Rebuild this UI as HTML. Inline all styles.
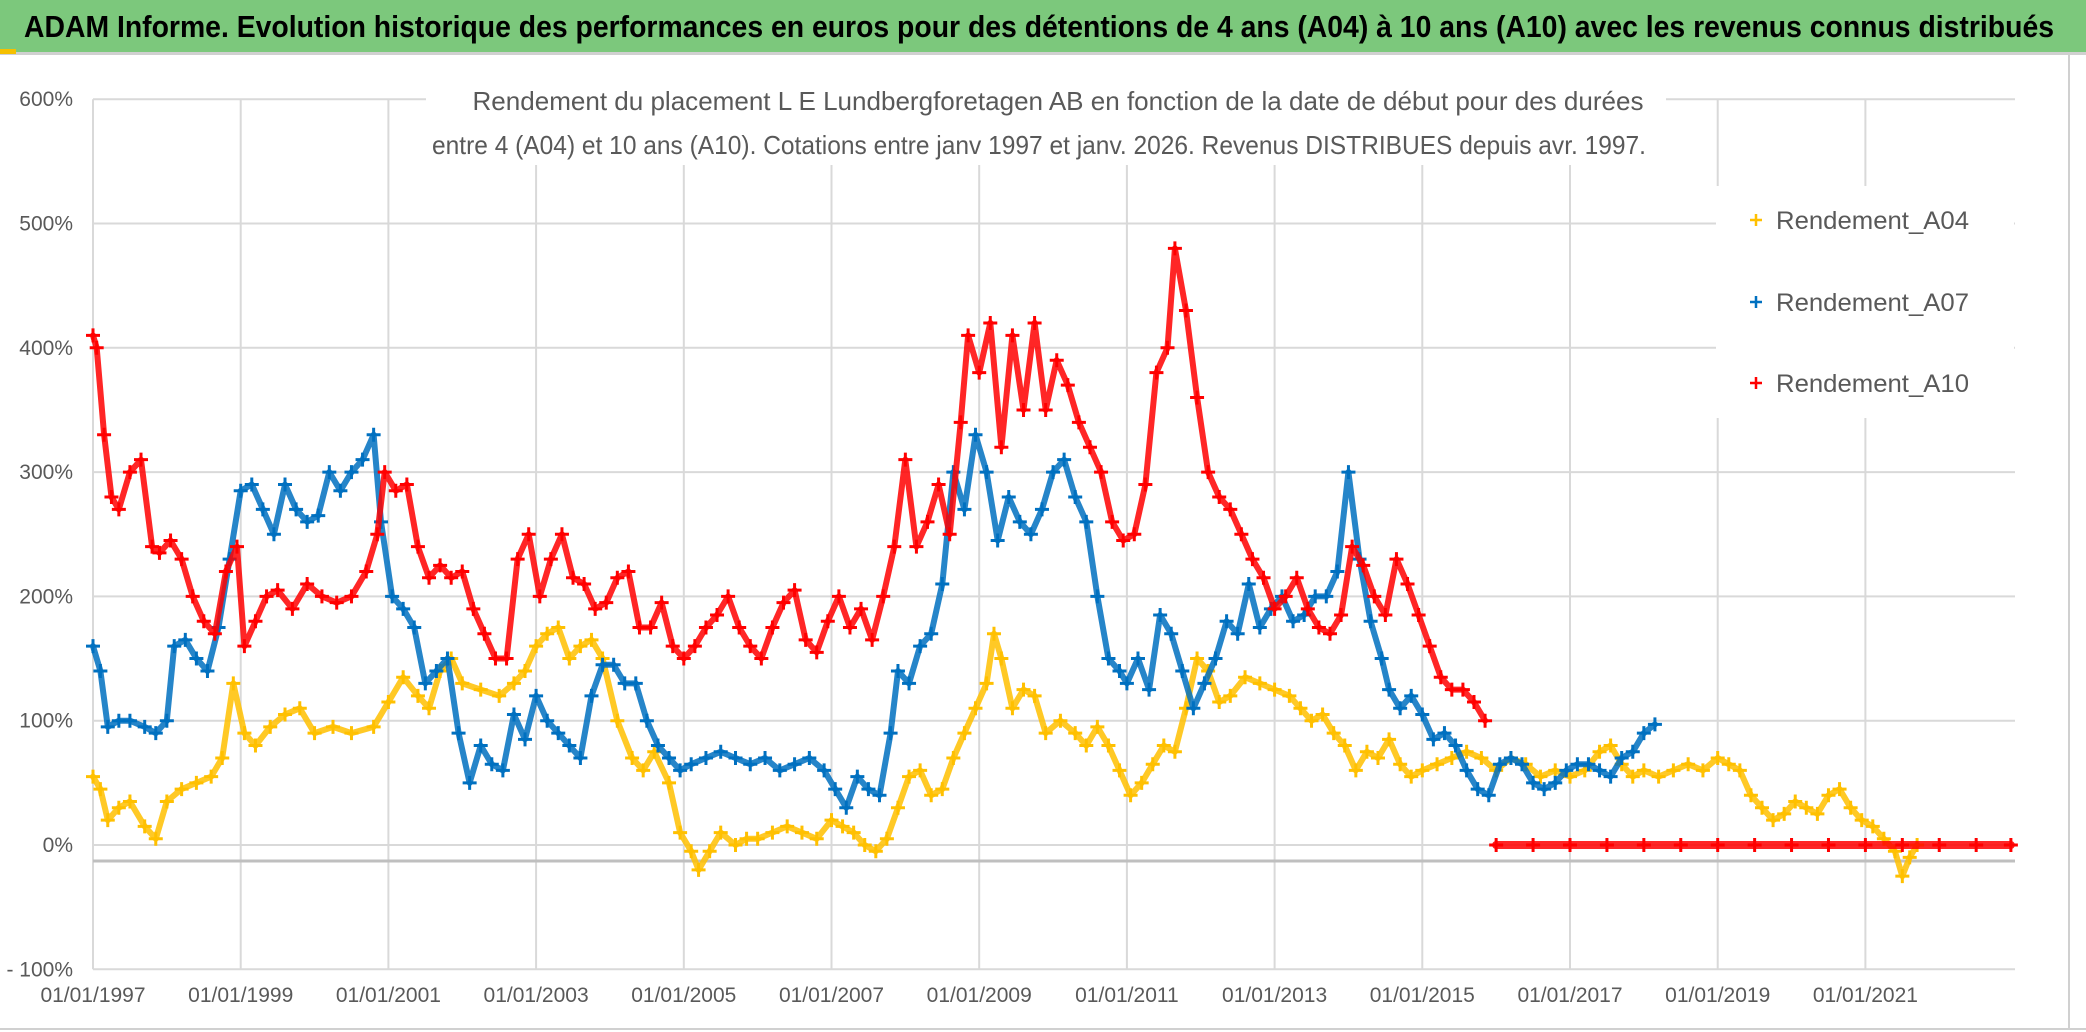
<!DOCTYPE html>
<html><head><meta charset="utf-8"><style>
html,body{margin:0;padding:0;background:#fff;}
svg{display:block;}
text{font-family:"Liberation Sans",sans-serif;}
</style></head><body>
<svg id="chart" width="2086" height="1032" xmlns="http://www.w3.org/2000/svg">
<rect x="0" y="0" width="2086" height="1032" fill="#fff"/>
<rect x="0" y="0" width="2086" height="52" fill="#7cc87c"/>
<rect x="0" y="52" width="2086" height="3" fill="#d0d0d0"/>
<rect x="0" y="49" width="16" height="5" fill="#f5c000"/>
<text x="24" y="37" font-size="31" font-weight="bold" fill="#000" textLength="2030" lengthAdjust="spacingAndGlyphs">ADAM Informe. Evolution historique des performances en euros pour des détentions de 4 ans (A04) à 10 ans (A10) avec les revenus connus distribués</text>
<line x1="2069" y1="55" x2="2069" y2="1030" stroke="#d0d0d0" stroke-width="2"/>
<line x1="0" y1="1029" x2="2086" y2="1029" stroke="#d0d0d0" stroke-width="2"/>
<g id="grid"></g>
<g id="series"></g>
<rect x="426" y="66" width="1240" height="99" fill="#fff"/>
<text x="1058" y="110" font-size="26" fill="#595959" text-anchor="middle" textLength="1171" lengthAdjust="spacingAndGlyphs">Rendement du placement L E Lundbergforetagen AB en fonction de la date de début pour des durées</text>
<text x="1039" y="154" font-size="26" fill="#595959" text-anchor="middle" textLength="1214" lengthAdjust="spacingAndGlyphs">entre 4 (A04) et 10 ans (A10). Cotations entre janv 1997 et janv. 2026. Revenus DISTRIBUES depuis avr. 1997.</text>
<g id="legend"></g>
<g id="axes"></g>
</svg>
<script>
const NS="http://www.w3.org/2000/svg";
const yTicks=[600,500,400,300,200,100,0,-100];
const yTickLabels=["600%","500%","400%","300%","200%","100%","0%","- 100%"];
const xTicks=[1997,1999,2001,2003,2005,2007,2009,2011,2013,2015,2017,2019,2021];
const xTickLabels=["01/01/1997","01/01/1999","01/01/2001","01/01/2003","01/01/2005","01/01/2007","01/01/2009","01/01/2011","01/01/2013","01/01/2015","01/01/2017","01/01/2019","01/01/2021"];
const seriesNames=["Rendement_A04","Rendement_A07","Rendement_A10"];

const yearsA04=[1997.0,1997.1,1997.2,1997.35,1997.5,1997.7,1997.85,1998.0,1998.2,1998.4,1998.6,1998.75,1998.9,1999.05,1999.2,1999.4,1999.6,1999.8,2000.0,2000.25,2000.5,2000.8,2001.0,2001.2,2001.4,2001.55,2001.7,2001.85,2002.0,2002.25,2002.5,2002.7,2002.85,2003.0,2003.15,2003.3,2003.45,2003.6,2003.75,2003.9,2004.1,2004.3,2004.45,2004.6,2004.8,2004.95,2005.1,2005.2,2005.35,2005.5,2005.7,2005.85,2006.0,2006.2,2006.4,2006.6,2006.8,2007.0,2007.15,2007.3,2007.45,2007.6,2007.75,2007.9,2008.05,2008.2,2008.35,2008.5,2008.65,2008.8,2008.95,2009.1,2009.2,2009.3,2009.45,2009.6,2009.75,2009.9,2010.1,2010.3,2010.45,2010.6,2010.75,2010.9,2011.05,2011.2,2011.35,2011.5,2011.65,2011.8,2011.95,2012.1,2012.25,2012.4,2012.6,2012.8,2013.0,2013.2,2013.35,2013.5,2013.65,2013.8,2013.95,2014.1,2014.25,2014.4,2014.55,2014.7,2014.85,2015.0,2015.2,2015.4,2015.6,2015.8,2016.0,2016.2,2016.4,2016.6,2016.8,2017.0,2017.2,2017.4,2017.55,2017.7,2017.85,2018.0,2018.2,2018.4,2018.6,2018.8,2019.0,2019.15,2019.3,2019.45,2019.6,2019.75,2019.9,2020.05,2020.2,2020.35,2020.5,2020.65,2020.8,2020.95,2021.1,2021.25,2021.4,2021.5,2021.6,2021.7,2021.85,2022.0];
const valuesA04=[55,45,20,30,35,15,5,35,45,50,55,70,130,90,80,95,105,110,90,95,90,95,115,135,120,110,140,150,130,125,120,130,140,160,170,175,150,160,165,150,100,70,60,75,50,10,-5,-20,-5,10,0,5,5,10,15,10,5,20,15,10,0,-5,5,30,55,60,40,45,70,90,110,130,170,150,110,125,120,90,100,90,80,95,80,60,40,50,65,80,75,110,150,140,115,120,135,130,125,120,110,100,105,90,80,60,75,70,85,65,55,60,65,70,75,70,60,70,65,55,60,55,60,75,80,65,55,60,55,60,65,60,70,65,60,40,30,20,25,35,30,25,40,45,30,20,15,5,-5,-25,-10,0];

const yearsA07=[1997.0,1997.1,1997.2,1997.35,1997.5,1997.7,1997.85,1998.0,1998.1,1998.25,1998.4,1998.55,1998.7,1998.85,1999.0,1999.15,1999.3,1999.45,1999.6,1999.75,1999.9,2000.05,2000.2,2000.35,2000.5,2000.65,2000.8,2000.9,2001.05,2001.2,2001.35,2001.5,2001.65,2001.8,2001.95,2002.1,2002.25,2002.4,2002.55,2002.7,2002.85,2003.0,2003.15,2003.3,2003.45,2003.6,2003.75,2003.9,2004.05,2004.2,2004.35,2004.5,2004.65,2004.8,2004.95,2005.1,2005.3,2005.5,2005.7,2005.9,2006.1,2006.3,2006.5,2006.7,2006.9,2007.05,2007.2,2007.35,2007.5,2007.65,2007.8,2007.9,2008.05,2008.2,2008.35,2008.5,2008.65,2008.8,2008.95,2009.1,2009.25,2009.4,2009.55,2009.7,2009.85,2010.0,2010.15,2010.3,2010.45,2010.6,2010.75,2010.9,2011.0,2011.15,2011.3,2011.45,2011.6,2011.75,2011.9,2012.05,2012.2,2012.35,2012.5,2012.65,2012.8,2012.95,2013.1,2013.25,2013.4,2013.55,2013.7,2013.85,2014.0,2014.15,2014.3,2014.45,2014.55,2014.7,2014.85,2015.0,2015.15,2015.3,2015.45,2015.6,2015.75,2015.9,2016.05,2016.2,2016.35,2016.5,2016.65,2016.8,2016.95,2017.1,2017.25,2017.4,2017.55,2017.7,2017.85,2018.0,2018.15,2018.3,2018.45,2018.6,2018.75,2018.9,2018.97];
const valuesA07=[160,140,95,100,100,95,90,100,160,165,150,140,175,230,285,290,270,250,290,270,260,265,300,285,300,310,330,260,200,190,175,130,140,150,90,50,80,65,60,105,85,120,100,90,80,70,120,145,145,130,130,100,80,70,60,65,70,75,70,65,70,60,65,70,60,45,30,55,45,40,90,140,130,160,170,210,300,270,330,300,245,280,260,250,270,300,310,280,260,200,150,140,130,150,125,185,170,140,110,130,150,180,170,210,175,190,200,180,185,200,200,220,300,230,180,150,125,110,120,105,85,90,80,60,45,40,65,70,65,50,45,50,60,65,65,60,55,70,75,90,97];

const yearsA10=[1997.0,1997.05,1997.15,1997.25,1997.35,1997.5,1997.65,1997.8,1997.9,1998.05,1998.2,1998.35,1998.5,1998.65,1998.8,1998.95,1999.05,1999.2,1999.35,1999.5,1999.7,1999.9,2000.1,2000.3,2000.5,2000.7,2000.85,2000.95,2001.1,2001.25,2001.4,2001.55,2001.7,2001.85,2002.0,2002.15,2002.3,2002.45,2002.6,2002.75,2002.9,2003.05,2003.2,2003.35,2003.5,2003.65,2003.8,2003.95,2004.1,2004.25,2004.4,2004.55,2004.7,2004.85,2005.0,2005.15,2005.3,2005.45,2005.6,2005.75,2005.9,2006.05,2006.2,2006.35,2006.5,2006.65,2006.8,2006.95,2007.1,2007.25,2007.4,2007.55,2007.7,2007.85,2008.0,2008.15,2008.3,2008.45,2008.6,2008.75,2008.85,2009.0,2009.15,2009.3,2009.45,2009.6,2009.75,2009.9,2010.05,2010.2,2010.35,2010.5,2010.65,2010.8,2010.95,2011.1,2011.25,2011.4,2011.55,2011.65,2011.8,2011.95,2012.1,2012.25,2012.4,2012.55,2012.7,2012.85,2013.0,2013.15,2013.3,2013.45,2013.6,2013.75,2013.9,2014.05,2014.2,2014.35,2014.5,2014.65,2014.8,2014.95,2015.1,2015.25,2015.4,2015.55,2015.7,2015.85];
const valuesA10=[410,400,330,280,270,300,310,240,235,245,230,200,180,170,220,240,160,180,200,205,190,210,200,195,200,220,250,300,285,290,240,215,225,215,220,190,170,150,150,230,250,200,230,250,215,210,190,195,215,220,175,175,195,160,150,160,175,185,200,175,160,150,175,195,205,165,155,180,200,175,190,165,200,240,310,240,260,290,250,340,410,380,420,320,410,350,420,350,390,370,340,320,300,260,245,250,290,380,400,480,430,360,300,280,270,250,230,215,190,200,215,190,175,170,185,240,225,200,185,230,210,185,160,135,125,125,115,100];
const yearsA10zero=[2016.0,2016.5,2017.0,2017.5,2018.0,2018.5,2019.0,2019.5,2020.0,2020.5,2021.0,2021.5,2022.0,2022.5,2022.97];
const valuesA10zero=[0,0,0,0,0,0,0,0,0,0,0,0,0,0,0];

const X0=93, PXY=73.85, Y0=845, PXV=1.243;
const xs=t=>X0+(t-1997)*PXY;
const ys=v=>Y0-v*PXV;

const grid=document.getElementById('grid');
const axes=document.getElementById('axes');
function mk(tag,attrs,parent){const e=document.createElementNS(NS,tag);for(const k in attrs)e.setAttribute(k,attrs[k]);parent.appendChild(e);return e;}

yTicks.forEach((v,i)=>{
  const l=mk('line',{x1:X0,x2:2015,y1:ys(v),y2:ys(v),stroke:'#d9d9d9','stroke-width':2},grid);
  
  
  const t=mk('text',{x:73,y:ys(v)+7,'font-size':21,fill:'#595959','text-anchor':'end'},axes);
  t.textContent=yTickLabels[i];
  
  
});
xTicks.forEach((yr,i)=>{
  const l=mk('line',{x1:xs(yr),x2:xs(yr),y1:ys(600),y2:ys(-100),stroke:'#d9d9d9','stroke-width':2},grid);
  
  
  const t=mk('text',{x:xs(yr),y:1002,'font-size':21,fill:'#595959','text-anchor':'middle'},axes);
  t.textContent=xTickLabels[i];
  
  
});
const ax=mk('line',{x1:X0,x2:2015,y1:861,y2:861,stroke:'#bfbfbf','stroke-width':3},grid);



const sg=document.getElementById('series');
function drawSeries(years,vals,color,name,w){
  const g=mk('g',{},sg);
  
  
  const pts=years.map((t,i)=>xs(t).toFixed(1)+','+ys(vals[i]).toFixed(1)).join(' ');
  const pl=mk('polyline',{points:pts,fill:'none',stroke:color,'stroke-width':w,'stroke-linejoin':'round','stroke-linecap':'round',opacity:0.85},g);
  
  
  years.forEach((t,i)=>{
    const x=xs(t),y=ys(vals[i]);
    const p=mk('path',{d:`M${x-7},${y}H${x+7}M${x},${y-7}V${y+7}`,stroke:color,'stroke-width':3},g);
    
    
  });
}
drawSeries(yearsA04,valuesA04,'#ffc000','series-a04',6);
drawSeries(yearsA07,valuesA07,'#0070c0','series-a07',6);
drawSeries(yearsA10,valuesA10,'#ff0000','series-a10',6);
drawSeries(yearsA10zero,valuesA10zero,'#ff0000','series-a10-zero',8);

const lg=document.getElementById('legend');
const lb=mk('rect',{x:1716,y:186,width:298,height:232,fill:'#fff'},lg);


const lcolors=['#ffc000','#0070c0','#ff0000'];
const ly=[220,302,383];
seriesNames.forEach((n,i)=>{
  const y=ly[i];
  const m=mk('path',{d:`M1750,${y}H1762M1756,${y-6}V${y+6}`,stroke:lcolors[i],'stroke-width':2.5},lg);
  
  
  const t=mk('text',{x:1776,y:y+9,'font-size':25,fill:'#595959',textLength:193,lengthAdjust:'spacingAndGlyphs'},lg);
  t.textContent=n;
  
  
});
</script>
</body></html>
